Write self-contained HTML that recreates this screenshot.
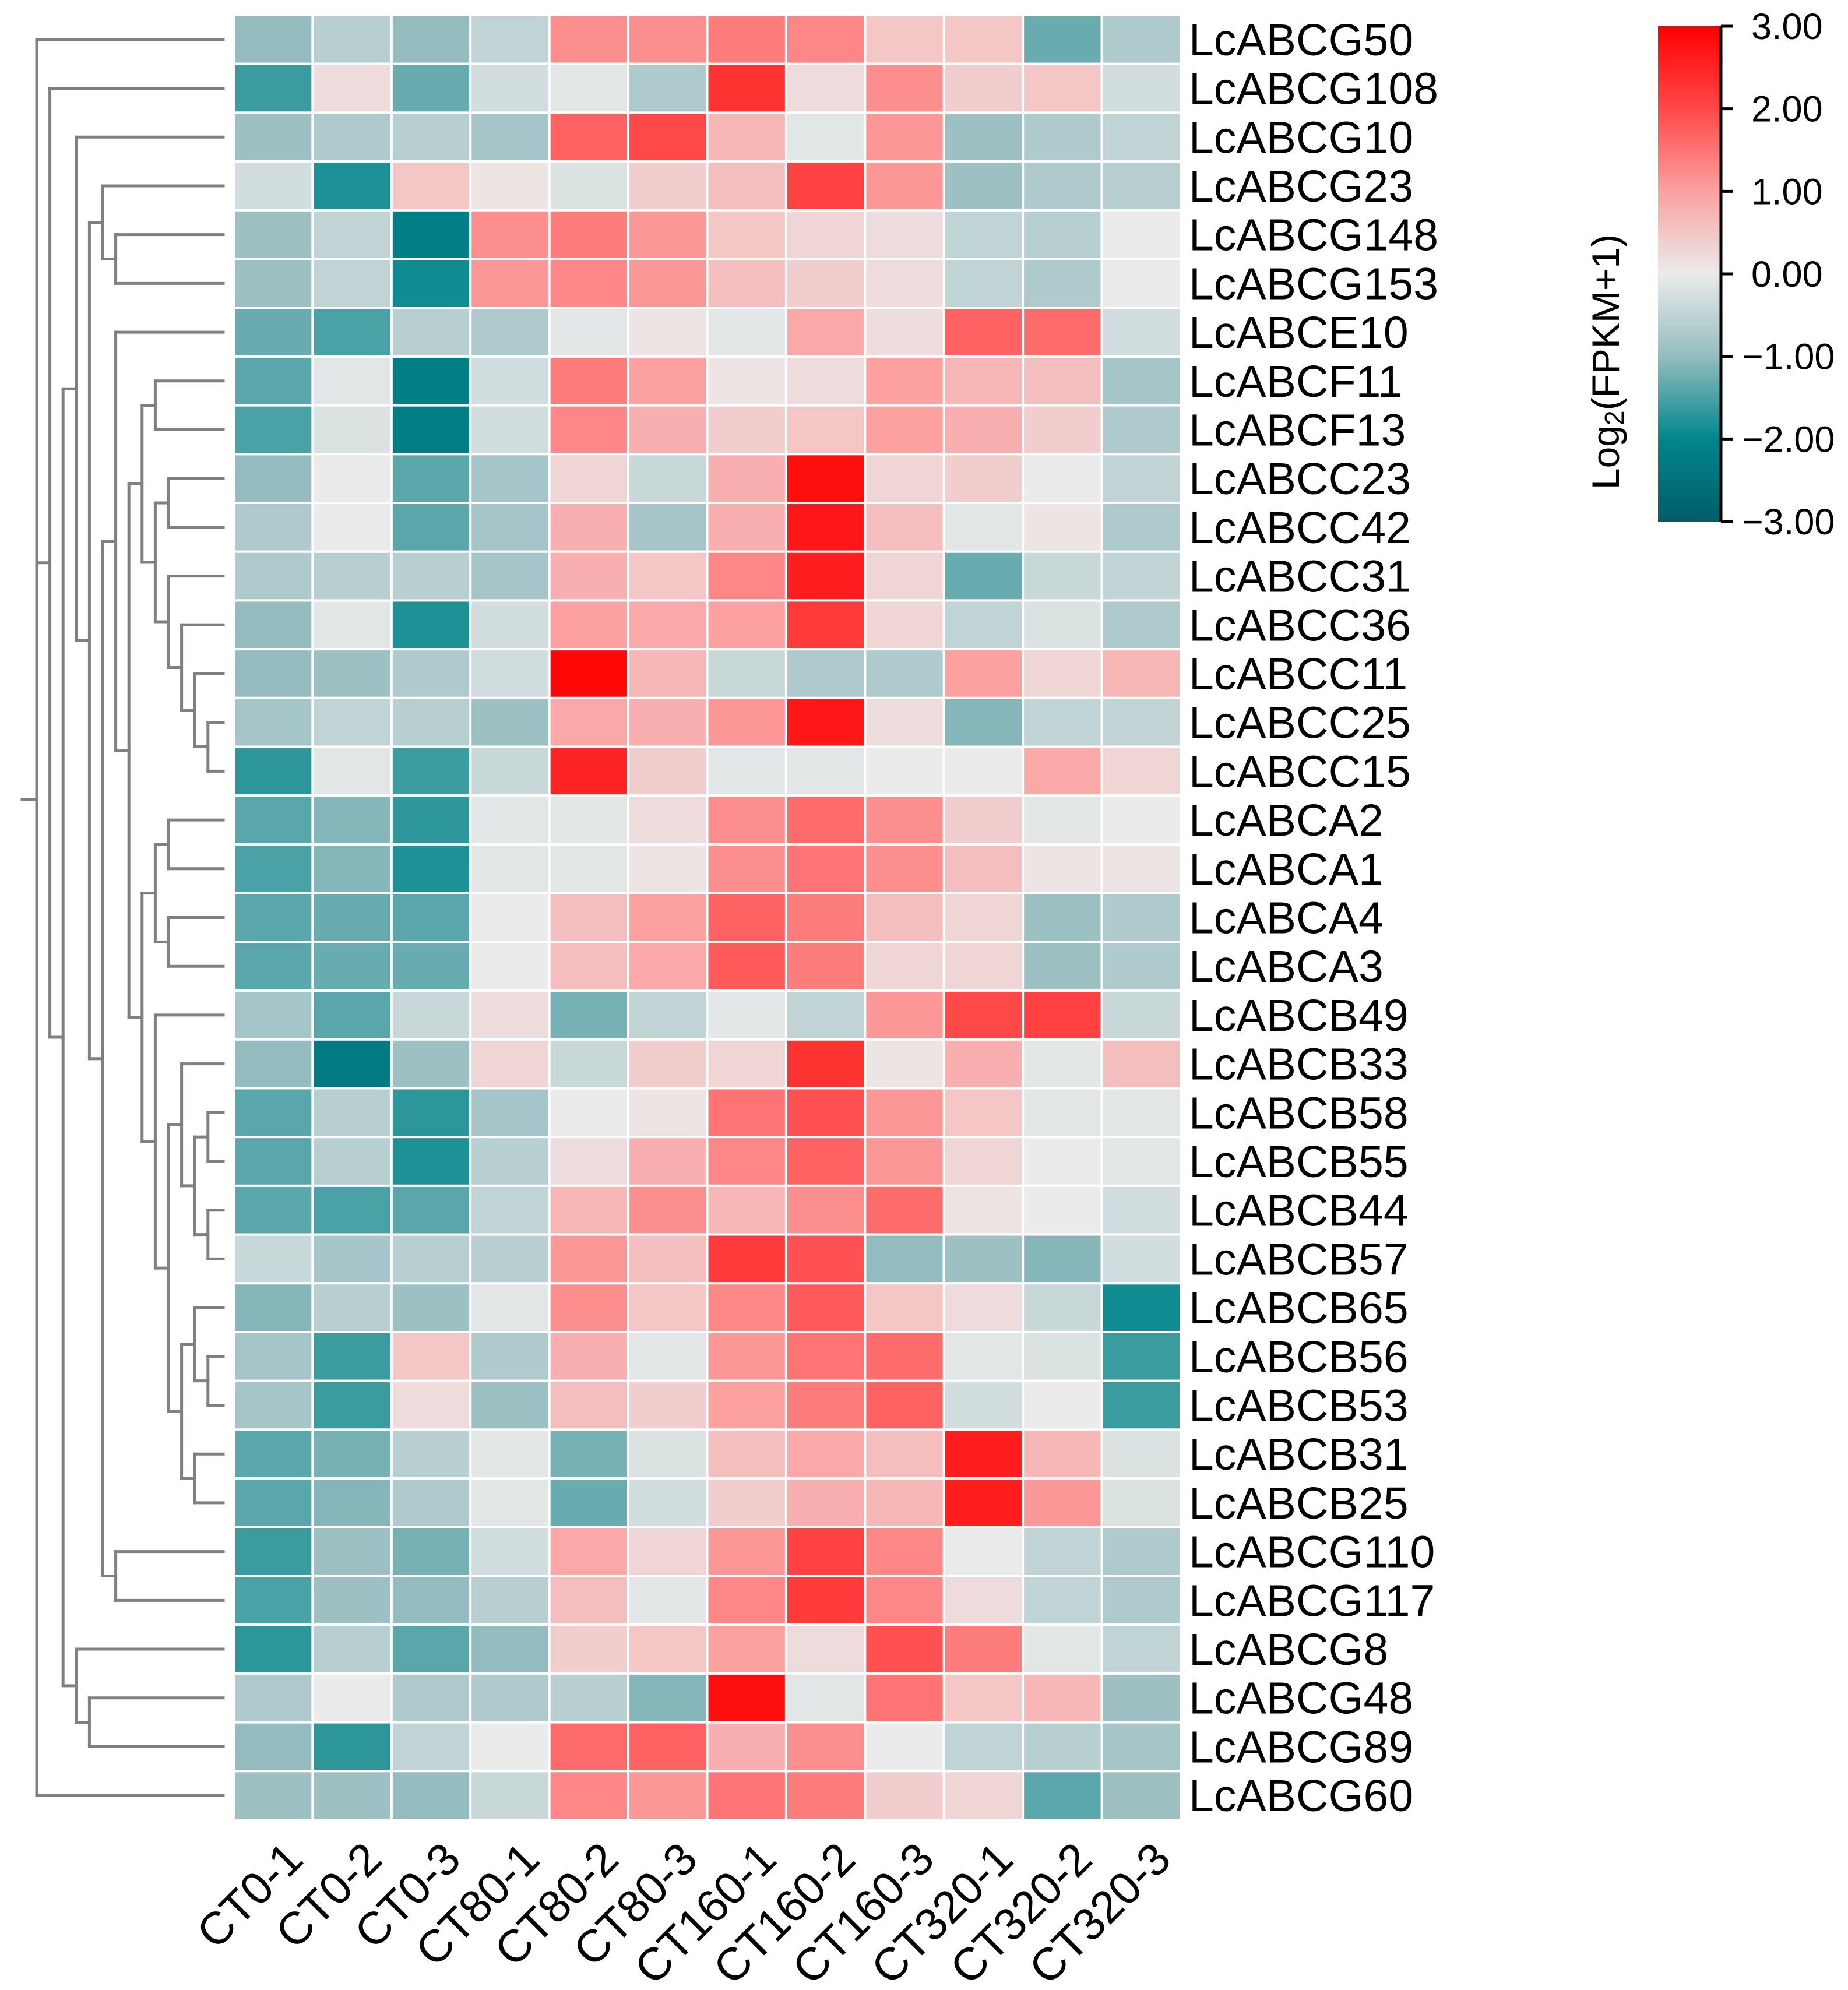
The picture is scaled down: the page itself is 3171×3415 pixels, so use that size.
<!DOCTYPE html>
<html><head><meta charset="utf-8"><style>html,body{margin:0;padding:0;background:#fff}svg{display:block}</style></head>
<body>
<svg id="chart" xmlns="http://www.w3.org/2000/svg" width="3171" height="3415" viewBox="0 0 3171 3415" font-family="'Liberation Sans', Arial, sans-serif">
<g id="dendro"></g>
<g id="cells"></g>
<g id="rowlabels"></g>
<g id="collabels"></g>
<g id="legend"></g>
</svg>
<script>
const columns = ["CT0-1","CT0-2","CT0-3","CT80-1","CT80-2","CT80-3","CT160-1","CT160-2","CT160-3","CT320-1","CT320-2","CT320-3"];
const genes = ["LcABCG50","LcABCG108","LcABCG10","LcABCG23","LcABCG148","LcABCG153","LcABCE10","LcABCF11","LcABCF13","LcABCC23","LcABCC42","LcABCC31","LcABCC36","LcABCC11","LcABCC25","LcABCC15","LcABCA2","LcABCA1","LcABCA4","LcABCA3","LcABCB49","LcABCB33","LcABCB58","LcABCB55","LcABCB44","LcABCB57","LcABCB65","LcABCB56","LcABCB53","LcABCB31","LcABCB25","LcABCG110","LcABCG117","LcABCG8","LcABCG48","LcABCG89","LcABCG60"];
const values = [
[-1.0,-0.6,-1.0,-0.5,1.2,1.2,1.4,1.3,0.5,0.5,-1.3,-0.7],
[-1.6,0.2,-1.3,-0.3,-0.1,-0.7,2.3,0.2,1.2,0.4,0.5,-0.3],
[-0.9,-0.7,-0.6,-0.8,1.7,2.0,0.7,-0.1,1.1,-0.9,-0.7,-0.5],
[-0.3,-1.8,0.5,0.1,-0.2,0.4,0.6,2.1,1.1,-0.9,-0.7,-0.6],
[-0.9,-0.5,-2.2,1.2,1.4,1.1,0.5,0.3,0.2,-0.5,-0.6,0.0],
[-0.9,-0.5,-1.9,1.1,1.3,1.1,0.6,0.4,0.2,-0.5,-0.7,0.0],
[-1.3,-1.5,-0.6,-0.7,-0.1,0.1,-0.1,0.9,0.2,1.7,1.6,-0.3],
[-1.4,-0.1,-2.2,-0.3,1.4,1.0,0.1,0.2,1.0,0.7,0.6,-0.8],
[-1.5,-0.2,-2.2,-0.3,1.3,0.8,0.4,0.5,1.0,0.8,0.4,-0.7],
[-1.0,0.0,-1.4,-0.8,0.3,-0.4,0.8,2.8,0.3,0.4,0.0,-0.5],
[-0.7,0.0,-1.4,-0.8,0.8,-0.8,0.8,2.7,0.6,-0.1,0.1,-0.7],
[-0.7,-0.6,-0.6,-0.8,0.8,0.5,1.3,2.6,0.3,-1.3,-0.4,-0.5],
[-1.0,-0.1,-1.8,-0.3,1.0,0.9,1.0,2.2,0.3,-0.5,-0.2,-0.7],
[-1.0,-0.9,-0.7,-0.3,2.9,0.7,-0.4,-0.7,-0.7,1.0,0.3,0.7],
[-0.8,-0.5,-0.6,-0.9,0.9,0.8,1.1,2.7,0.2,-1.1,-0.5,-0.5],
[-1.7,-0.1,-1.6,-0.4,2.5,0.4,-0.1,-0.1,0.0,0.0,0.9,0.3],
[-1.4,-1.1,-1.7,-0.1,-0.1,0.2,1.2,1.6,1.2,0.4,-0.1,0.0],
[-1.5,-1.1,-1.8,-0.1,-0.1,0.1,1.2,1.5,1.2,0.6,0.1,0.1],
[-1.4,-1.3,-1.4,0.0,0.6,1.0,1.7,1.4,0.6,0.3,-0.9,-0.7],
[-1.4,-1.3,-1.3,0.0,0.6,0.9,1.8,1.4,0.3,0.3,-0.9,-0.7],
[-0.8,-1.4,-0.4,0.2,-1.2,-0.5,-0.1,-0.5,1.1,2.0,2.1,-0.4],
[-1.0,-2.3,-0.9,0.3,-0.4,0.4,0.3,2.3,0.1,0.8,-0.1,0.6],
[-1.4,-0.6,-1.7,-0.8,0.0,0.1,1.5,1.9,1.1,0.5,-0.1,-0.1],
[-1.4,-0.6,-1.8,-0.6,0.2,0.8,1.3,1.7,1.1,0.3,0.0,-0.1],
[-1.4,-1.5,-1.4,-0.5,0.7,1.2,0.7,1.2,1.6,0.1,0.0,-0.3],
[-0.4,-0.8,-0.6,-0.6,1.1,0.6,2.2,1.9,-1.0,-0.9,-1.1,-0.3],
[-1.1,-0.6,-0.9,-0.1,1.2,0.5,1.3,1.8,0.5,0.2,-0.4,-1.9],
[-0.8,-1.6,0.5,-0.7,0.8,-0.1,1.1,1.5,1.6,-0.1,-0.2,-1.6],
[-0.8,-1.6,0.2,-0.9,0.6,0.4,1.0,1.4,1.7,-0.3,0.0,-1.6],
[-1.4,-1.2,-0.6,-0.1,-1.2,-0.2,0.6,0.9,0.6,2.6,0.7,-0.2],
[-1.4,-1.1,-0.7,-0.1,-1.3,-0.3,0.4,0.8,0.7,2.6,1.1,-0.2],
[-1.6,-0.9,-1.2,-0.3,0.9,0.3,1.1,2.1,1.3,0.0,-0.5,-0.7],
[-1.5,-0.9,-1.0,-0.6,0.6,-0.1,1.3,2.2,1.3,0.2,-0.5,-0.7],
[-1.7,-0.6,-1.4,-1.0,0.4,0.5,1.0,0.2,1.9,1.4,-0.1,-0.5],
[-0.7,0.0,-0.7,-0.7,-0.6,-1.1,2.8,-0.1,1.5,0.5,0.7,-0.9],
[-1.0,-1.7,-0.5,0.0,1.6,1.7,0.8,1.2,0.0,-0.5,-0.6,-0.8],
[-0.9,-0.9,-1.0,-0.4,1.3,1.1,1.5,1.4,0.4,0.3,-1.4,-0.9]
];
const legendTicks = [3,2,1,0,-1,-2,-3];
const legendTickLabels = ["3.00","2.00","1.00","0.00","\u22121.00","\u22122.00","\u22123.00"];
const tree = [0, 0, [1, 1, [2,
  [3, 2, [4, [5, 3, [6, 4, 5]], [5, [6, 6, [7,
      [8, [9, 7, 8], [9, [10, 9, 10], [10, 11, [11, 12, [12, 13, [13, 14, 15]]]]]],
      [8, [9, [10, 16, 17], [10, 18, 19]], [9, 20, [10,
          [11, 21, [12, [13, 22, 23], [13, 24, 25]]],
          [11, [12, 26, [13, 27, 28]], [12, 29, 30]]]]]]], [6, 31, 32]]]],
  [3, 33, [4, 34, 35]]]], 36];

const NS = "http://www.w3.org/2000/svg";
const X0 = 401, X1 = 2026, Y0 = 26, Y1 = 3123;
const cw = (X1 - X0) / columns.length, rh = (Y1 - Y0) / genes.length;
const xCol = i => X0 + i * cw;
const yRow = i => Y0 + i * rh;
const levelX = l => 63 + 22.6 * l;
const LEAFX = 383;
const stops = [[-3,[3,93,104]],[-2,[0,134,140]],[-1,[148,188,191]],[0,[235,235,235]],[1,[252,160,160]],[2,[255,72,72]],[3,[255,0,0]]];
function color(v){
  v = Math.max(-3, Math.min(3, v));
  for (let k=0;k<stops.length-1;k++){
    const [a,ca]=stops[k],[b,cb]=stops[k+1];
    if (v<=b){const t=(v-a)/(b-a);return "rgb("+ca.map((c,j)=>Math.round(c+(cb[j]-c)*t)).join(",")+")";}
  }
  return "rgb(255,0,0)";
}
function mk(tag, attrs, parent){const e=document.createElementNS(NS,tag);for(const k in attrs)e.setAttribute(k,attrs[k]);parent.appendChild(e);return e;}

const cells = document.getElementById("cells");
values.forEach((row, r) => row.forEach((v, c) => {
  const e = mk("rect", {x:xCol(c), y:yRow(r), width:cw, height:rh, fill:color(v), stroke:"#fff", "stroke-width":4}, cells);
  
  
}));

const rl = document.getElementById("rowlabels");
genes.forEach((g, r) => {
  const t = mk("text", {x:2040, y:yRow(r)+rh/2+27, "font-size":77, fill:"#000"}, rl);
  t.textContent = g;
  
  
});

const cl = document.getElementById("collabels");
columns.forEach((c, i) => {
  const cx = xCol(i) + cw/2 + 55, cy = 3195;
  const t = mk("text", {x:cx, y:cy, "font-size":78, "text-anchor":"end", transform:"rotate(-45 "+cx+" "+cy+")", fill:"#000"}, cl);
  t.textContent = c;
  
  
});

const dg = document.getElementById("dendro");
function line(x1,y1,x2,y2){
  const e = mk("line",{x1,y1,x2,y2,stroke:"#808080","stroke-width":5,"stroke-linecap":"square"},dg);
  
  
}
function draw(node){
  if (typeof node === "number") return {x:LEAFX, y:yRow(node)+rh/2};
  const lx = levelX(node[0]);
  const kids = node.slice(1).map(draw);
  kids.forEach(k => line(lx, k.y, k.x, k.y));
  const ys = kids.map(k=>k.y);
  line(lx, Math.min(...ys), lx, Math.max(...ys));
  return {x:lx, y: ys.reduce((a,b)=>a+b,0)/ys.length};
}
const root = draw(tree);
line(38, root.y, root.x, root.y);

const lg = document.getElementById("legend");
const LX0=2845, LX1=2953, LY0=45, LY1=895;
const defs = mk("defs",{},lg);
const grad = mk("linearGradient",{id:"cg",x1:0,y1:0,x2:0,y2:1},defs);
for (let k=0;k<=24;k++){const v=3-6*k/24;mk("stop",{offset:(k/24),"stop-color":color(v)},grad);}
const bar = mk("rect",{x:LX0,y:LY0,width:LX1-LX0,height:LY1-LY0,fill:"url(#cg)"},lg);


const ly = v => LY0 + (3 - v) / 6 * (LY1 - LY0);
mk("line",{x1:LX1,y1:LY0,x2:LX1,y2:LY1,stroke:"#000","stroke-width":5},lg);
legendTicks.forEach((v,i)=>{
  mk("line",{x1:LX1,y1:ly(v),x2:LX1+20,y2:ly(v),stroke:"#000","stroke-width":5},lg);
  const t = mk("text",{x:LX1+(v<0?36:52),y:ly(v)+22,"font-size":63,fill:"#000"},lg);
  t.textContent = legendTickLabels[i];
  
  
});
const title = mk("text",{x:2778,y:621,"font-size":66,"text-anchor":"middle",transform:"rotate(-90 2778 621)",fill:"#000"},lg);
title.innerHTML = 'Log<tspan font-size="46" dy="8">2</tspan><tspan dy="-8">(FPKM+1)</tspan>';


</script>
</body></html>
